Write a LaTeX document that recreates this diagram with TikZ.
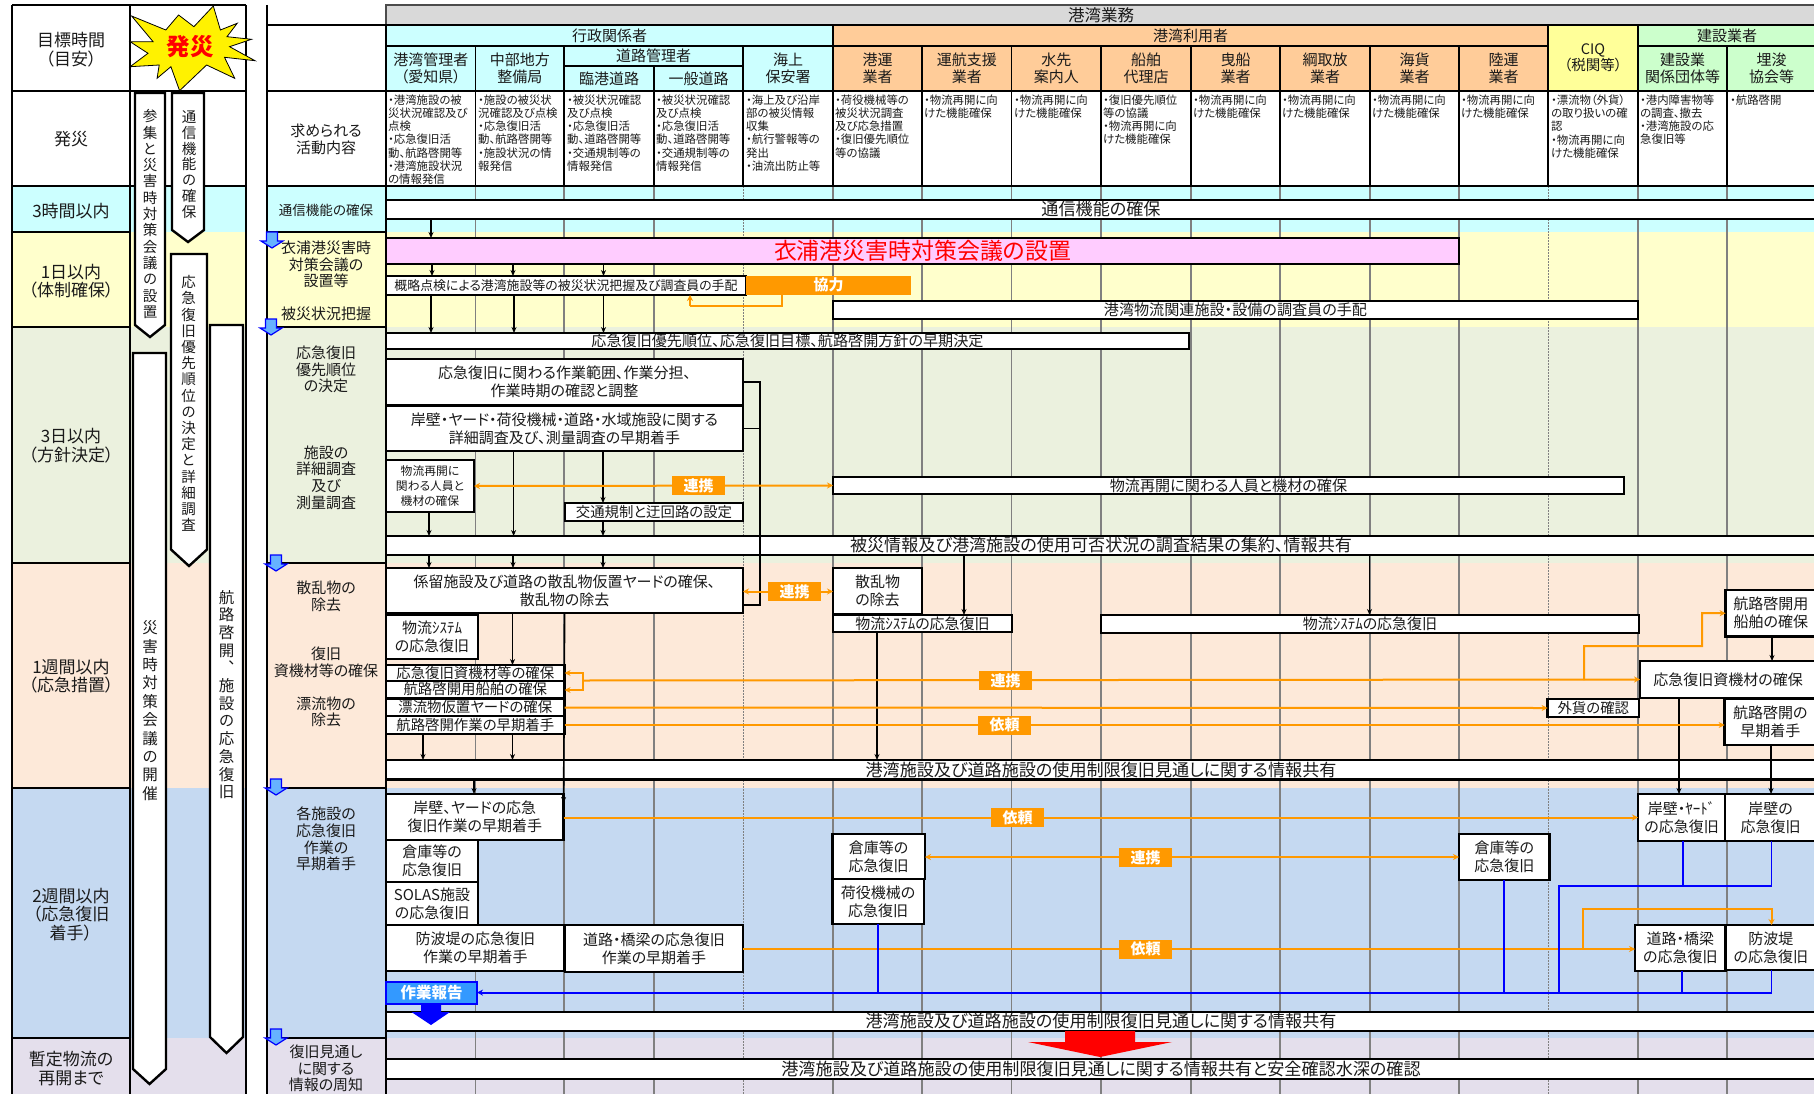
\documentclass[tikz,border=0pt]{standalone}
\usepackage{fontspec}
\setmainfont[RawFeature=+palt]{Noto Sans CJK JP}
\newfontfamily\cjkv[RawFeature=+vert]{Noto Sans CJK JP}
\usetikzlibrary{arrows.meta}
\pgfdeclarelayer{conn}\pgfdeclarelayer{top}
\pgfsetlayers{main,conn,top}
\definecolor{cCy}{HTML}{CCFFFF}\definecolor{cYe}{HTML}{FFFFCC}\definecolor{cGr}{HTML}{EBF1DE}
\definecolor{cOr}{HTML}{FDE9D9}\definecolor{cBl}{HTML}{C5D9F1}\definecolor{cPu}{HTML}{E4DFEC}
\definecolor{hOr}{HTML}{FFCC99}\definecolor{hGn}{HTML}{CCFFCC}\definecolor{hYe}{HTML}{FFFF99}
\definecolor{hGy}{HTML}{D9D9D9}\definecolor{cPk}{HTML}{FFCCFF}\definecolor{oR}{HTML}{FF9900}
\definecolor{rep}{HTML}{3399FF}\definecolor{sm}{HTML}{66B2FF}\definecolor{txt}{HTML}{1A1A1A}
\newcommand{\fz}[2]{\fontsize{#1}{#2}\selectfont}
\newcommand{\Bx}[7][]{%
  \pgfmathsetmacro\Bw{#5-#3}\pgfmathsetmacro\Bh{#6-#4}%
  \pgfmathsetmacro\Bcx{(#3+#5)/2}\pgfmathsetmacro\Bcy{(#4+#6)/2}%
  \node[boxs,minimum width=\Bw pt,minimum height=\Bh pt,#1] (#2) at (\Bcx,\Bcy) {#7};}
\newcommand{\Penta}[5]{%
  \pgfmathsetmacro\Pm{(#1+#2)/2}%
  \draw[line width=2.4pt,fill=white,draw=black,line join=miter] (#1,#3) -- (#2,#3) -- (#2,#4) -- (\Pm,#5) -- (#1,#4) -- cycle;}
\newcommand{\Smarrow}[2]{%
  \pgfmathsetmacro\Sa{#1-11}\pgfmathsetmacro\Sb{#1-5.5}\pgfmathsetmacro\Sc{#1+5.5}\pgfmathsetmacro\Sd{#1+11}%
  \pgfmathsetmacro\Se{#2-1}\pgfmathsetmacro\Sf{#2+8}\pgfmathsetmacro\Sg{#2+15}%
  \draw[blue,line width=1.2pt,fill=sm] (\Sb,\Se) -- (\Sc,\Se) -- (\Sc,\Sf) -- (\Sd,\Sf) -- (#1,\Sg) -- (\Sa,\Sf) -- (\Sb,\Sf) -- cycle;}
\tikzset{
  boxs/.style={draw=black,fill=white,line width=2.3pt,inner sep=0pt,outer sep=0pt,align=center,text=txt,font=\fz{15}{18}},
  hd/.style={line width=1.1pt,font=\fz{15}{17}},
  barb/.style={font=\fz{17.1}{18}},
  barm/.style={font=\fz{15.1}{18}},
  lst/.style={font=\fz{14.4}{16}},
  lab/.style={inner sep=0pt,align=center,text=txt,font=\fz{17}{18.6}},
  rlab/.style={inner sep=0pt,align=center,text=txt,font=\fz{15}{16.6}},
  cell/.style={inner sep=0pt,anchor=north west,align=left,text=txt,font=\fz{11.4}{13.2}},
  vt/.style={inner sep=0pt,align=center,text=txt},
  tagb/.style={fill=oR,text=white,inner sep=0pt,outer sep=0pt,minimum width=53pt,minimum height=19pt,font=\bfseries\fz{15}{16}},
  blk/.style={-{Stealth[length=6pt,width=5pt]},line width=1.6pt,black},
  oar/.style={-{Stealth[length=6pt,width=6pt]},line width=2pt,oR},
  obi/.style={{Stealth[length=6pt,width=6pt]}-{Stealth[length=6pt,width=6pt]},line width=2pt,oR},
  blu/.style={line width=1.8pt,blue},
  gridl/.style={line width=1.1pt,black!50},
  gridd/.style={line width=.7pt,black!50,dash pattern=on 2pt off 1pt},
  thinl/.style={line width=1.1pt,black},
}
\begin{document}
\begin{tikzpicture}[x=1pt,y=-1pt]
\useasboundingbox (0,0) rectangle (1814,1094);
\fill[white] (0,0) rectangle (1814,1094);
% bands
\foreach \ya/\yb/\cc in {186/232/cCy,232/327/cYe,327/563/cGr,563/788/cOr,788/1038/cBl,1038/1094/cPu}{
  \fill[\cc] (12,\ya) rectangle (246,\yb);
  \fill[\cc] (267,\ya) rectangle (1814,\yb);}
% grid
\foreach \x in {475.5,564,654,833,922,1011.5,1101,1191,1280,1370,1459,1638,1727}{\draw[gridl] (\x,186) -- (\x,1094);}
\foreach \x in {743,1548}{\draw[gridd] (\x,186) -- (\x,1094);}
% left panel frame
\draw[thinl] (12,5) -- (246,5) (12,91) -- (246,91) (12,186) -- (246,186);
\draw[thinl] (12,232) -- (130,232) (12,327) -- (130,327) (12,563) -- (130,563) (12,788) -- (130,788) (12,1038) -- (130,1038);
\draw[thinl] (12,5) -- (12,1094) (130,5) -- (130,1094) (246,5) -- (246,1094);
\draw[thinl] (267,5) -- (267,1094) (386,5) -- (386,1094);
\draw[thinl] (267,25) -- (386,25) (267,91) -- (386,91) (267,186) -- (1814,186);
\draw[thinl] (267,232) -- (386,232) (267,327) -- (386,327) (267,563) -- (386,563) (267,788) -- (386,788) (267,1038) -- (386,1038);
% header
\Bx[hd,fill=hGy,draw=black!70,font=\fz{16.5}{18}]{hMain}{386}{5}{1816}{25}{港湾業務}
\Bx[hd,fill=cCy]{hAdm}{386}{25}{833}{46}{行政関係者}
\Bx[hd,fill=hOr]{hUse}{833}{25}{1548}{46}{港湾利用者}
\Bx[hd,fill=hYe,font=\fz{14.5}{16}]{hCiq}{1548}{25}{1638}{91}{CIQ\\（税関等）}
\Bx[hd,fill=hGn]{hCon}{1638}{25}{1816}{46}{建設業者}
\Bx[hd,fill=cCy]{h1}{386}{46}{475.5}{91}{港湾管理者\\（愛知県）}
\Bx[hd,fill=cCy]{h2}{475.5}{46}{564}{91}{中部地方\\整備局}
\Bx[hd,fill=cCy]{h3}{564}{46}{743}{66}{道路管理者}
\Bx[hd,fill=cCy]{h3a}{564}{66}{654}{91}{臨港道路}
\Bx[hd,fill=cCy]{h3b}{654}{66}{743}{91}{一般道路}
\Bx[hd,fill=cCy]{h4}{743}{46}{833}{91}{海上\\保安署}
\Bx[hd,fill=hOr]{h5}{833}{46}{922}{91}{港運\\業者}
\Bx[hd,fill=hOr]{h6}{922}{46}{1011.5}{91}{運航支援\\業者}
\Bx[hd,fill=hOr]{h7}{1011.5}{46}{1101}{91}{水先\\案内人}
\Bx[hd,fill=hOr]{h8}{1101}{46}{1191}{91}{船舶\\代理店}
\Bx[hd,fill=hOr]{h9}{1191}{46}{1280}{91}{曳船\\業者}
\Bx[hd,fill=hOr]{h10}{1280}{46}{1370}{91}{綱取放\\業者}
\Bx[hd,fill=hOr]{h11}{1370}{46}{1459}{91}{海貨\\業者}
\Bx[hd,fill=hOr]{h12}{1459}{46}{1548}{91}{陸運\\業者}
\Bx[hd,fill=hGn]{h13}{1638}{46}{1727}{91}{建設業\\関係団体等}
\Bx[hd,fill=hGn]{h14}{1727}{46}{1816}{91}{埋浚\\協会等}
\foreach \x in {475.5,564,654,743,833,922,1011.5,1101,1191,1280,1370,1459,1548,1638,1727}{\draw[thinl] (\x,91) -- (\x,186);}
\draw[line width=1.8pt] (833,25) -- (833,186);
% activity cells
\node[cell] (c1) at (388,94.5) {・港湾施設の被\\災状況確認及び\\点検\\・応急復旧活\\動、航路啓開等\\・港湾施設状況\\の情報発信};
\node[cell] (c2) at (478,94.5) {・施設の被災状\\況確認及び点検\\・応急復旧活\\動、航路啓開等\\・施設状況の情\\報発信};
\node[cell] (c3) at (567,94.5) {・被災状況確認\\及び点検\\・応急復旧活\\動、道路啓開等\\・交通規制等の\\情報発信};
\node[cell] (c4) at (656,94.5) {・被災状況確認\\及び点検\\・応急復旧活\\動、道路啓開等\\・交通規制等の\\情報発信};
\node[cell] (c5) at (746,94.5) {・海上及び沿岸\\部の被災情報\\収集\\・航行警報等の\\発出\\・油流出防止等};
\node[cell] (c6) at (835,94.5) {・荷役機械等の\\被災状況調査\\及び応急措置\\・復旧優先順位\\等の協議};
\node[cell] (c7) at (924,94.5) {・物流再開に向\\けた機能確保};
\node[cell] (c8) at (1014,94.5) {・物流再開に向\\けた機能確保};
\node[cell] (c9) at (1103,94.5) {・復旧優先順位\\等の協議\\・物流再開に向\\けた機能確保};
\node[cell] (c10) at (1193,94.5) {・物流再開に向\\けた機能確保};
\node[cell] (c11) at (1282,94.5) {・物流再開に向\\けた機能確保};
\node[cell] (c12) at (1372,94.5) {・物流再開に向\\けた機能確保};
\node[cell] (c13) at (1461,94.5) {・物流再開に向\\けた機能確保};
\node[cell] (c14) at (1551,94.5) {・漂流物（外貨）\\の取り扱いの確\\認\\・物流再開に向\\けた機能確保};
\node[cell] (c15) at (1640,94.5) {・港内障害物等\\の調査、撤去\\・港湾施設の応\\急復旧等};
\node[cell] (c16) at (1730,94.5) {・航路啓開};
% left labels
\node[lab] (t0) at (71,49.5) {目標時間\\（目安）};
\node[lab] (t1) at (71,139) {発災};
\node[lab] (t2) at (71,211) {3時間以内};
\node[lab] (t3) at (71,281) {1日以内\\（体制確保）};
\node[lab] (t4) at (71,445.5) {3日以内\\（方針決定）};
\node[lab] (t5) at (71,676) {1週間以内\\（応急措置）};
\node[lab] (t6) at (71,914.5) {2週間以内\\（応急復旧\\着手）};
\node[lab] (t7) at (71,1068.5) {暫定物流の\\再開まで};
% right labels
\node[rlab] (r0) at (326,139.5) {求められる\\活動内容};
\node[rlab,font=\fz{13.5}{16}] (r1) at (326,210) {通信機能の確保};
\node[rlab] (r2) at (326,264.5) {衣浦港災害時\\対策会議の\\設置等};
\node[rlab] (r3) at (326,314) {被災状況把握};
\node[rlab] (r4) at (326,369.5) {応急復旧\\優先順位\\の決定};
\node[rlab] (r5) at (326,477.5) {施設の\\詳細調査\\及び\\測量調査};
\node[rlab] (r6) at (326,596.5) {散乱物の\\除去};
\node[rlab] (r7) at (326,662.5) {復旧\\資機材等の確保};
\node[rlab] (r8) at (326,712) {漂流物の\\除去};
\node[rlab] (r9) at (326,839) {各施設の\\応急復旧\\作業の\\早期着手};
\node[rlab] (r10) at (326,1068.5) {復旧見通し\\に関する\\情報の周知};
% small blue arrows
\Smarrow{272}{233}\Smarrow{271}{320}\Smarrow{276}{556}\Smarrow{276}{780}\Smarrow{276}{1030}
% pentagons
\Penta{135}{165}{93}{325}{337}
\Penta{172}{204}{93}{230}{242}
\Penta{171}{207}{254}{549.5}{566}
\Penta{210}{243}{325}{1037}{1053}
\Penta{133}{166}{353}{1069}{1084}
\node[vt,font=\cjkv\fz{14.5}{16.3}] (v1) at (150,214) {参\\集\\と\\災\\害\\時\\対\\策\\会\\議\\の\\設\\置};
\node[vt,font=\cjkv\fz{14.5}{15.8}] (v2) at (189,164.5) {通\\信\\機\\能\\の\\確\\保};
\node[vt,font=\cjkv\fz{14.5}{16.2}] (v3) at (188.5,403.5) {応\\急\\復\\旧\\優\\先\\順\\位\\の\\決\\定\\と\\詳\\細\\調\\査};
\node[vt,font=\cjkv\fz{15.5}{17.7}] (v4) at (226.7,694.5) {航\\路\\啓\\開\\、\\施\\設\\の\\応\\急\\復\\旧};
\node[vt,font=\cjkv\fz{15.5}{18.4}] (v5) at (150,710.5) {災\\害\\時\\対\\策\\会\\議\\の\\開\\催};
% star
\draw[black,line width=.8pt,fill=yellow,line join=miter] (213.3,6) -- (220.4,30) -- (237.2,23.3) -- (227,36.7) -- (251.5,39.3) -- (229.6,46.7) -- (255,60.7) -- (224.5,57.3) -- (234.7,78.3) -- (206.6,65) -- (179.6,90.7) -- (170.9,66.7) -- (157.1,78.3) -- (159.2,65) -- (130.1,66.7) -- (148,53.3) -- (130.1,41.7) -- (153.1,41.7) -- (131.6,16) -- (165.8,30) -- (178.6,15) -- (193.9,26.7) -- cycle;
\node[inner sep=0pt,text=red,font=\bfseries\fz{23.5}{26}] (star) at (190,47) {発災};
% main boxes
\Bx[barb]{bCom}{386}{200}{1816}{219}{通信機能の確保}
\Bx[fill=cPk,text=red,font=\fz{22.9}{26}]{bPink}{386}{238}{1459}{264}{衣浦港災害時対策会議の設置}
\Bx[font=\fz{12.9}{14}]{bRough}{386}{276}{746}{295}{概略点検による港湾施設等の被災状況把握及び調査員の手配}
\Bx[barm]{bPort}{833}{301}{1638}{319}{港湾物流関連施設・設備の調査員の手配}
\Bx[barm]{bPrio}{386}{333}{1189}{349}{応急復旧優先順位、応急復旧目標、航路啓開方針の早期決定}
\Bx{bScope}{386}{359}{743}{405}{応急復旧に関わる作業範囲、作業分担、\\作業時期の確認と調整}
\Bx{bKishi}{386}{406}{743}{451}{岸壁・ヤード・荷役機械・道路・水域施設に関する\\詳細調査及び、測量調査の早期着手}
\Bx[font=\fz{11.8}{15}]{bRes}{386}{460}{474}{512}{物流再開に\\関わる人員と\\機材の確保}
\Bx[barm]{bResR}{833}{477}{1624}{494}{物流再開に関わる人員と機材の確保}
\Bx[lst]{bTraf}{565}{503}{743}{521}{交通規制と迂回路の設定}
\Bx[barb]{bShare}{386}{536}{1816}{555}{被災情報及び港湾施設の使用可否状況の調査結果の集約、情報共有}
\Bx{bMoor}{386}{568}{743}{613}{係留施設及び道路の散乱物仮置ヤードの確保、\\散乱物の除去}
\Bx{bDeb}{833}{568}{922}{614}{散乱物\\の除去}
\Bx{bSysC}{833}{615}{1012}{632}{物流ｼｽﾃﾑの応急復旧}
\Bx{bSysR}{1101}{615}{1639}{633}{物流ｼｽﾃﾑの応急復旧}
\Bx{bSysL}{386}{615}{478}{659}{物流ｼｽﾃﾑ\\の応急復旧}
\Bx[lst]{l1}{386}{665}{564.6}{681}{応急復旧資機材等の確保}
\Bx[lst]{l2}{386}{681}{564.6}{698}{航路啓開用船舶の確保}
\Bx[lst]{l3}{386}{699}{564.6}{716}{漂流物仮置ヤードの確保}
\Bx[lst]{l4}{386}{716}{564.6}{734}{航路啓開作業の早期着手}
\Bx[lst]{bFx}{1547.6}{699}{1639}{717}{外貨の確認}
\Bx{bMat}{1640}{661}{1816}{698}{応急復旧資機材の確保}
\Bx{bShip}{1725.6}{590}{1816}{636.5}{航路啓開用\\船舶の確保}
\Bx{bStart}{1724.6}{699}{1816}{745}{航路啓開の\\早期着手}
\Bx[barb]{bInfoA}{386}{760}{1816}{779.6}{港湾施設及び道路施設の使用制限復旧見通しに関する情報共有}
\Bx{bQ1}{386}{794}{563.6}{840}{岸壁、ヤードの応急\\復旧作業の早期着手}
\Bx{bQ2}{386}{840}{478}{882}{倉庫等の\\応急復旧}
\Bx{bQ3}{386}{882}{478}{925}{SOLAS施設\\の応急復旧}
\Bx{bQ4}{386}{925}{564.6}{971}{防波堤の応急復旧\\作業の早期着手}
\Bx{bQ5}{565}{925}{743}{972}{道路・橋梁の応急復旧\\作業の早期着手}
\Bx{bW1}{832.4}{834}{925}{879}{倉庫等の\\応急復旧}
\Bx{bW2}{832.4}{879}{924}{924}{荷役機械の\\応急復旧}
\Bx{bW3}{1459}{834}{1549.5}{880}{倉庫等の\\応急復旧}
\Bx{bE1}{1638}{794}{1725}{841}{岸壁・ﾔｰﾄﾞ\\の応急復旧}
\Bx{bE2}{1725}{794}{1816}{841}{岸壁の\\応急復旧}
\Bx{bF1}{1635}{925}{1725.6}{971}{道路・橋梁\\の応急復旧}
\Bx{bF2}{1725.6}{925}{1816}{970}{防波堤\\の応急復旧}
\Bx[draw=blue,fill=rep,text=white,font=\bfseries\fz{15.5}{17}]{bRep}{386}{982}{477}{1004}{作業報告}
\Bx[barb]{bInfoB}{386}{1012}{1816}{1031}{港湾施設及び道路施設の使用制限復旧見通しに関する情報共有}
\Bx[barb]{bInfoC}{386}{1059}{1816}{1079}{港湾施設及び道路施設の使用制限復旧見通しに関する情報共有と安全確認水深の確認}
% tags
\begin{pgfonlayer}{top}
\node[tagb,minimum width=165pt] (tKyo) at (828.5,285) {協力};
\node[tagb] (tR1) at (698.5,485.5) {連携};
\node[tagb] (tR2) at (794.5,591.5) {連携};
\node[tagb] (tR3) at (1005.5,680.5) {連携};
\node[tagb] (tI1) at (1004.5,725) {依頼};
\node[tagb] (tI2) at (1017.5,817.5) {依頼};
\node[tagb] (tR4) at (1145.5,857.5) {連携};
\node[tagb] (tI3) at (1145.5,949) {依頼};
\end{pgfonlayer}
% connectors
\begin{pgfonlayer}{conn}
\foreach \a/\b/\x in {bCom/bPink/431,bPink/bRough/432,bPink/bRough/513,bPink/bRough/603.5,bRough/bPrio/431,bRough/bPrio/514,bRough/bPrio/603.5,bKishi/bShare/513.6,bKishi/bTraf/603,bTraf/bShare/603,bRes/bShare/429,bShare/bMoor/429,bShare/bMoor/513,bShare/bMoor/603,bShare/bSysC/964,bShare/bSysR/1369.5,bSysC/bInfoA/877,bMoor/l1/512.5,l4/bInfoA/423,l4/bInfoA/512.5,bInfoA/bQ1/474,bMat/bE1/1679,bStart/bE2/1771,bShip/bMat/1772}{
  \draw[blk] (\a.south -| \x,0) -- (\b.north -| \x,0);}
\draw[line width=1.8pt] (bScope.east) -- (760,382) -- (760,605) -- (bMoor.east |- 0,605);
\draw[line width=1.8pt] (bKishi.east) -- (760,428.5);
\draw[blk] (bMoor.south -| 564.6,0) -- (bQ1.east |- 0,803);
% orange
\draw[line width=2pt,oR] (tKyo.south -| 782,0) -- (782,306) -- (690,306);
\draw[oar] (690,306) -- (bRough.south -| 690,0);
\draw[obi] (bRes.east) -- (bResR.west);
\draw[obi] (bMoor.east |- tR2) -- (bDeb.west |- tR2);
\draw[oar] (582.5,680.5) -- (bMat.west);
\draw[oar] (582.5,680.5) -- (582.5,673) -- (l1.east |- 0,673);
\draw[oar] (582.5,680.5) -- (582.5,690) -- (l2.east |- 0,690);
\draw[oar] (1584,680) -- (1584,646) -- (1702,646) -- (1702,613) -- (bShip.west);
\draw[oar] (l3.east) -- (bFx.west);
\draw[oar] (l4.east |- 0,725) -- (bStart.west |- 0,725);
\draw[oar] (bQ1.east |- 0,817.5) -- (bE1.west |- 0,817.5);
\draw[obi] (bW1.east |- bW3) -- (bW3.west);
\draw[oar] (bQ5.east |- 0,949) -- (bF1.west |- 0,949);
\draw[oar] (1582.7,949) -- (1582.7,908.5) -- (1771.5,908.5) -- (bF2.north -| 1771.5,0);
% blue
\draw[blu,-{Stealth[length=6pt,width=6pt]}] (1771.5,992.6) -- (bRep.east |- 0,992.6);
\draw[blu] (bF2.south -| 1771.5,0) -- (1771.5,992.6);
\draw[blu] (bF1.south -| 1682,0) -- (1682,992.6);
\draw[blu] (bE2.south -| 1771.5,0) -- (1771.5,886) -- (1559,886) -- (1559,992.6);
\draw[blu] (bE1.south -| 1683,0) -- (1683,886);
\draw[blu] (bW3.south -| 1503.7,0) -- (1503.7,992.6);
\draw[blu] (bW2.south -| 878,0) -- (878,992.6);
\fill[blue] (421,1004) -- (441,1004) -- (441,1012) -- (450,1012) -- (431,1025) -- (411.5,1012) -- (421,1012) -- cycle;
\fill[red] (1065,1031) -- (1135,1031) -- (1135,1042) -- (1172,1042) -- (1100,1057) -- (1028,1042) -- (1065,1042) -- cycle;
\end{pgfonlayer}
\end{tikzpicture}
\end{document}
